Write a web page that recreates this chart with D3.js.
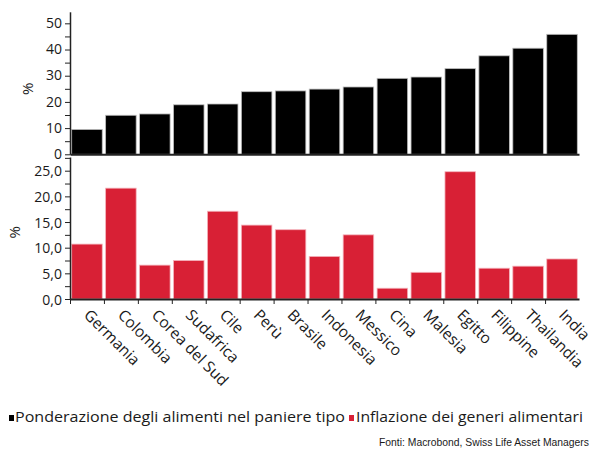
<!DOCTYPE html>
<html>
<head>
<meta charset="utf-8">
<script src="https://cdn.jsdelivr.net/npm/d3@7"></script>
<style>
  html, body { margin: 0; padding: 0; background: #fff; }
  svg { display: block; }
  text { font-family: "Open Sans", "Noto Sans", sans-serif; fill: #1a1a1a; }
</style>
</head>
<body>
<svg id="chart" width="592" height="450"></svg>
<script>
const categories = ["Germania","Colombia","Corea del Sud","Sudafrica","Cile","Perù","Brasile","Indonesia","Messico","Cina","Malesia","Egitto","Filippine","Thailandia","India"];
const foodWeight = [9.5, 14.9, 15.4, 18.9, 19.2, 23.9, 24.2, 24.9, 25.7, 29.0, 29.5, 32.7, 37.6, 40.5, 45.8];
const foodInflation = [10.7, 21.6, 6.6, 7.5, 17.1, 14.4, 13.5, 8.3, 12.5, 2.1, 5.2, 24.8, 6.0, 6.4, 7.8];
const topTicks = [0, 5, 10, 15, 20, 25, 30, 35, 40, 45, 50];
const bottomTicks = [0, 2.5, 5, 7.5, 10, 12.5, 15, 17.5, 20, 22.5, 25, 27.5];
const legendLabels = ["Ponderazione degli alimenti nel paniere tipo", "Inflazione dei generi alimentari"];
const sourceText = "Fonti: Macrobond, Swiss Life Asset Managers";

const svg = d3.select("#chart");
const left = 70, right = 579;
const black = "#000000", red = "#d82035";

const x = d3.scaleBand().domain(categories).range([left, right]).paddingInner(0.1).paddingOuter(0.05);
const xb = d3.scaleLinear().domain([0, categories.length]).range([left, right]);

const yTop = d3.scaleLinear().domain([0, 54.4]).range([154.3, 11.8]);
const yBot = d3.scaleLinear().domain([0, 27.67]).range([299, 157]);

// top bars
svg.append("g").selectAll("rect").data(foodWeight).join("rect")
  .attr("x", (d, i) => x(categories[i]))
  .attr("width", x.bandwidth())
  .attr("y", d => yTop(d))
  .attr("height", d => yTop(0) - yTop(d))
  .attr("fill", black)
  .attr("stroke", "#bdbdbd").attr("stroke-width", 0.8);

// bottom bars
svg.append("g").selectAll("rect").data(foodInflation).join("rect")
  .attr("x", (d, i) => x(categories[i]))
  .attr("width", x.bandwidth())
  .attr("y", d => yBot(d))
  .attr("height", d => yBot(0) - yBot(d))
  .attr("fill", red)
  .attr("stroke", "#f4b4bc").attr("stroke-width", 0.8);

function styleAxis(g) {
  g.selectAll(".domain").attr("stroke", "#222").attr("stroke-width", 1.5);
  g.selectAll(".tick line").attr("stroke", "#222").attr("stroke-width", 1);
  g.selectAll(".tick text").style("font-family", '"Open Sans", sans-serif').style("font-size", "14px").attr("fill", "#1a1a1a");
}

// top y axis
svg.append("g").attr("transform", `translate(${left},0)`)
  .call(d3.axisLeft(yTop).tickValues(topTicks).tickSize(5).tickSizeOuter(0).tickPadding(3)
    .tickFormat(d => d % 10 === 0 ? d3.format("d")(d) : ""))
  .call(styleAxis)
  .call(g => g.selectAll(".tick text").attr("dy", "0.3em"));

// bottom y axis
svg.append("g").attr("transform", `translate(${left},0)`)
  .call(d3.axisLeft(yBot).tickValues(bottomTicks).tickSize(5).tickSizeOuter(0).tickPadding(3)
    .tickFormat(d => d % 5 === 0 ? d3.format(".1f")(d).replace(".", ",") : ""))
  .call(styleAxis)
  .call(g => g.selectAll(".tick text").attr("dy", "0.36em"));

// top baseline
svg.append("g").attr("transform", `translate(0,${yTop(0)})`)
  .call(d3.axisBottom(xb).tickValues([]).tickSizeOuter(0))
  .call(g => g.select(".domain").attr("stroke", "#222").attr("stroke-width", 2));

// bottom x axis
svg.append("g").attr("transform", `translate(0,${yBot(0)})`)
  .call(d3.axisBottom(xb).tickValues(d3.range(0, categories.length)).tickSize(5).tickSizeOuter(0).tickFormat(""))
  .call(g => {
    g.select(".domain").attr("stroke", "#222").attr("stroke-width", 2);
    g.selectAll(".tick line").attr("stroke", "#222").attr("stroke-width", 1);
  });

// category labels
svg.append("g").selectAll("text").data(categories).join("text")
  .attr("transform", d => `translate(${x(d) + x.bandwidth() / 2 - 4},${316}) rotate(45)`)
  .attr("text-anchor", "start")
  .style("font-size", "15.5px")
  .text(d => d);

// y labels
svg.append("text").attr("transform", `translate(33,${yTop(25)}) rotate(-90)`)
  .attr("text-anchor", "middle").style("font-size", "15px").text("%");
svg.append("text").attr("transform", `translate(20,${yBot(13)}) rotate(-90)`)
  .attr("text-anchor", "middle").style("font-size", "15px").text("%");

// legend
const lg = svg.append("g");
lg.append("rect").attr("x", 9).attr("y", 415).attr("width", 5).attr("height", 6).attr("fill", black);
lg.append("text").attr("x", 15).attr("y", 422).style("font-size", "14.5px")
  .attr("textLength", 330).attr("lengthAdjust", "spacingAndGlyphs").text(legendLabels[0]);
lg.append("rect").attr("x", 349).attr("y", 415).attr("width", 5).attr("height", 6).attr("fill", red);
lg.append("text").attr("x", 356).attr("y", 422).style("font-size", "14.5px")
  .attr("textLength", 227).attr("lengthAdjust", "spacingAndGlyphs").text(legendLabels[1]);

// source
svg.append("text").attr("x", 589).attr("y", 446).attr("text-anchor", "end")
  .style("font-family", '"Liberation Sans Narrow", "Liberation Sans", Arial, sans-serif')
  .style("font-size", "11.5px")
  .attr("textLength", 210).attr("lengthAdjust", "spacingAndGlyphs")
  .text(sourceText);
</script>
</body>
</html>
